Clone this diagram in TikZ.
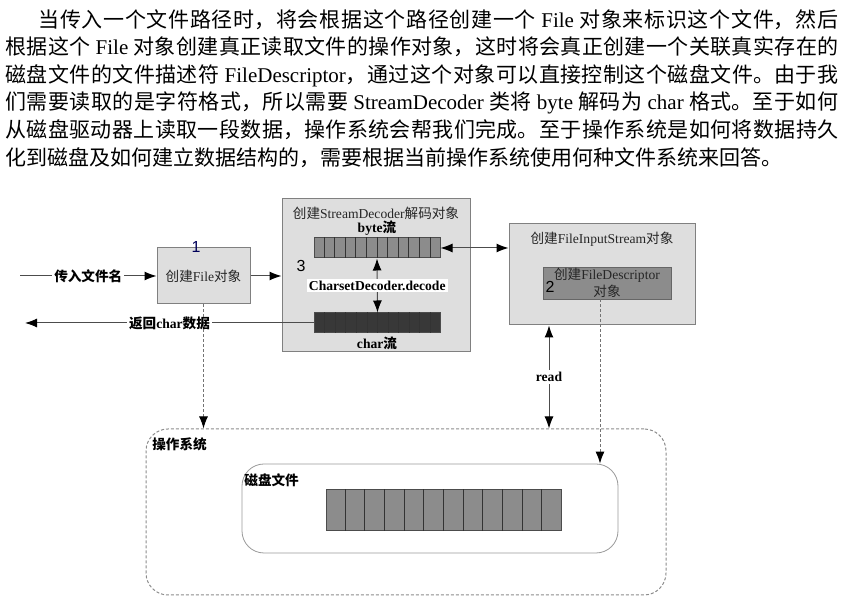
\documentclass[tikz,border=0pt]{standalone}
\usepackage{fontspec}
\setmainfont{Liberation Serif}
\setsansfont{Liberation Sans}
\newfontfamily\cjk{Noto Sans CJK SC}
\newcommand\lat[1]{{\rmfamily #1}}
\newcommand\dfont{\fontsize{6.8}{8}\selectfont\cjk}
\usetikzlibrary{arrows.meta,calc}
\XeTeXlinebreaklocale "zh"
\XeTeXlinebreakskip=0pt plus 1pt
\definecolor{boxfill}{gray}{0.87}

\begin{document}
\begin{tikzpicture}[x=0.5pt, y=-0.5pt, font=\dfont,
  box/.style={draw=black!50, fill=boxfill, line width=0.5pt, inner sep=1pt},
  bar/.style={draw=black!70, line width=0.5pt, minimum width=63pt, minimum height=10pt, inner sep=0},
  cellline/.style={draw=black!80, line width=0.4pt},
  lbl/.style={font=\dfont\bfseries, inner sep=1pt},
  wire/.style={draw=black!70, line width=0.5pt, -{Latex[length=6pt,width=4.5pt,color=black]}},
  twoway/.style={wire, {Latex[length=6pt,width=4.5pt,color=black]}-{Latex[length=6pt,width=4.5pt,color=black]}},
  dashwire/.style={wire, draw=black!55, dash pattern=on 1.5pt off 1pt},
  num/.style={font=\sffamily\fontsize{8}{9}\selectfont, inner sep=0}]
  \useasboundingbox (0,0) rectangle (843,608);

  % Text
  \node[anchor=north west, inner sep=0, text width=416.5pt, align=justify,
        font=\fontsize{10.5}{13.8}\selectfont\cjk] (intro) at (5,9)
    {\parindent=0pt\hspace*{16.5pt}当传入一个文件路径时，将会根据这个路径创建一个 \lat{File} 对象来标识这个文件，然后\linebreak
     根据这个 \lat{File} 对象创建真正读取文件的操作对象，这时将会真正创建一个关联真实存在的\linebreak
     磁盘文件的文件描述符 \lat{FileDescriptor}，通过这个对象可以直接控制这个磁盘文件。由于我\linebreak
     们需要读取的是字符格式，所以需要 \lat{StreamDecoder} 类将 \lat{byte} 解码为 \lat{char} 格式。至于如何\linebreak
     从磁盘驱动器上读取一段数据，操作系统会帮我们完成。至于操作系统是如何将数据持久\linebreak
     化到磁盘及如何建立数据结构的，需要根据当前操作系统使用何种文件系统来回答。};

  % Kaesten
  \node[box, minimum width=46.5pt, minimum height=28pt, text=black!85] (filebox) at (203.5,276) {创建\lat{File}对象};

  \node[box, minimum width=94pt, minimum height=76.5pt] (sdbox) at (376,275.5) {};
  \node[text=black!85] (sdtitle) at (376,213) {创建\lat{StreamDecoder}解码对象};
  \node[lbl] (bytelbl) at (377,228) {\lat{byte}流};
  \node[bar, fill=black!45] (bytebar) at (377,248) {};
  \node[bar, fill=black!78] (charbar) at (377.5,323) {};
  \node[lbl] (charlbl) at (377,343) {\lat{char}流};

  \node[box, minimum width=93pt, minimum height=50.5pt] (fisbox) at (602,274.5) {};
  \node[text=black!85] (fistitle) at (602,239) {创建\lat{FileInputStream}对象};
  \node[draw=black!60, fill=black!45, minimum width=64pt, minimum height=16pt, inner sep=0,
        align=center, text=black!85, font=\fontsize{6.8}{6}\selectfont\cjk] (fdbox) at (607,283)
    {创建\lat{FileDescriptor}\\对象};

  \node[draw=black!45, line width=0.5pt, dash pattern=on 1.5pt off 1pt, rounded corners=11pt,
        minimum width=260pt, minimum height=83pt] (osbox) at (406,512) {};
  \node[lbl, anchor=west] (oslbl) at (150,444) {操作系统};
  \node[draw=black!40, line width=0.4pt, rounded corners=11pt,
        minimum width=188pt, minimum height=44.5pt] (diskbox) at (430,508.5) {};
  \node[lbl, anchor=west] (disklbl) at (242,480) {磁盘文件};
  \node[bar, fill=black!45, minimum width=117.5pt, minimum height=20.5pt] (diskbar) at (443.5,510.5) {};

  \foreach \b in {bytebar,charbar,diskbar}
    \foreach \i in {1,...,11}
      \draw[cellline] ($(\b.north west)!\i/12!(\b.north east)$) -- ($(\b.south west)!\i/12!(\b.south east)$);

  % Pfeile
  \coordinate (inl) at (20,276);
  \coordinate (retl) at (25,323);
  \coordinate (readx) at (549,0);
  \coordinate (fdx) at (600,0);

  \draw[wire] (inl) -- node[lbl, fill=white] {传入文件名} (filebox.west);
  \draw[wire] (filebox.east) -- (sdbox.west |- filebox.east);
  \draw[wire] (charbar.west) -- node[lbl, fill=white] {返回\lat{char}数据} (retl);
  \draw[twoway] (bytebar.east) -- (bytebar.east -| fisbox.west);
  \draw[twoway] (bytebar.south) -- node[lbl, fill=white] (decode) {\lat{CharsetDecoder.decode}} (charbar.north);
  \draw[twoway] (fisbox.south -| readx) -- node[lbl, fill=white] {\lat{read}} (osbox.north -| readx);

  \draw[dashwire] (filebox.south) -- (filebox.south |- osbox.north);
  \draw[dashwire] (fdbox.south -| fdx) -- (diskbox.north -| fdx);

  % Nummern
  \node[num, text=blue!35!black] (n1) at (196,247) {1};
  \node[num] (n3) at (301,266) {3};
  \node[num] (n2) at (550,287) {2};
\end{tikzpicture}
\end{document}
